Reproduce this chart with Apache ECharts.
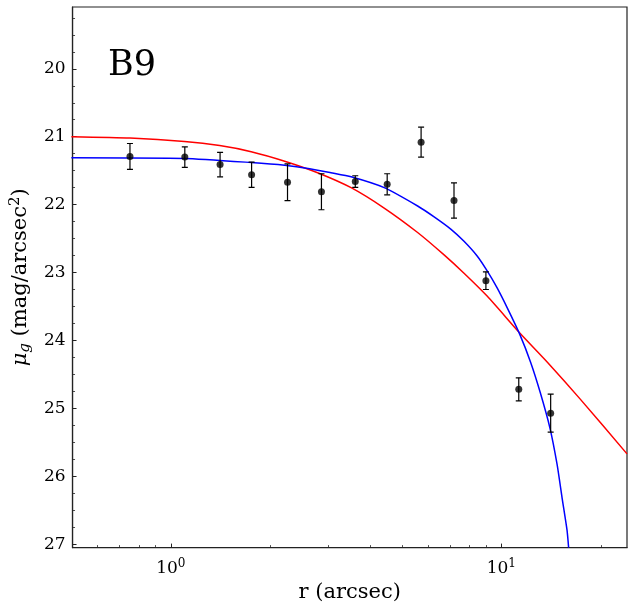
<!DOCTYPE html>
<html>
<head>
<meta charset="utf-8">
<script src="https://cdn.jsdelivr.net/npm/echarts@6/dist/echarts.min.js"></script>
<style>
html,body{margin:0;padding:0;background:#fff;}
#chart{width:634px;height:608px;}
</style>
</head>
<body>
<div id="chart"></div>
<script>
// Observed profile points
const radius = [0.752, 1.102, 1.409, 1.755, 2.254, 2.855, 3.614, 4.514, 5.717, 7.19, 8.98, 11.29, 14.10];
const mu     = [21.29, 21.30, 21.41, 21.56, 21.67, 21.81, 21.66, 21.70, 21.08, 21.94, 23.12, 24.72, 25.07];
const muErr  = [0.19, 0.15, 0.18, 0.185, 0.27, 0.265, 0.085, 0.155, 0.22, 0.26, 0.13, 0.17, 0.28];

// Red model curve (sampled)
const redR  = [0.50, 0.752, 1.10, 1.405, 1.75, 2.21, 2.78, 3.51, 4.42, 5.58, 6.71, 7.71, 9.07, 11.37, 13.78, 17.3, 24.0];
const redMu = [21.00, 21.02, 21.07, 21.13, 21.22, 21.36, 21.53, 21.75, 22.05, 22.41, 22.74, 23.01, 23.35, 23.89, 24.32, 24.86, 25.67];

// Blue model curve (sampled)
const blueR  = [0.50, 1.10, 1.75, 2.21, 2.63, 3.05, 3.51, 4.42, 5.58, 6.26, 7.03, 7.71, 8.46, 9.07, 9.72, 10.42, 11.37, 12.26, 13.1, 14.03, 14.75, 15.27, 15.8, 15.98];
const blueMu = [21.31, 21.32, 21.38, 21.42, 21.47, 21.53, 21.59, 21.75, 22.02, 22.18, 22.36, 22.54, 22.76, 22.98, 23.23, 23.52, 23.91, 24.32, 24.76, 25.29, 25.83, 26.32, 26.79, 27.05];

// Axis ticks
const xMajorTicks = [1, 10];
const xMinorTicks = [0.6, 0.7, 0.8, 0.9, 2, 3, 4, 5, 6, 7, 8, 9, 20];
const yMajorTicks = [20, 21, 22, 23, 24, 25, 26, 27];
const yMinorTicks = [19.25, 19.5, 19.75, 20.25, 20.5, 20.75, 21.25, 21.5, 21.75, 22.25, 22.5, 22.75,
                     23.25, 23.5, 23.75, 24.25, 24.5, 24.75, 25.25, 25.5, 25.75, 26.25, 26.5, 26.75];

const FONT = 'DejaVu Serif';
const X_MIN = 0.504, X_MAX = 24.0, Y_MIN = 19.09, Y_MAX = 27.05;

const chart = echarts.init(document.getElementById('chart'), null, {renderer: 'canvas'});

const zip = (a, b) => a.map((v, i) => [v, b[i]]);

const option = {
  animation: false,
  backgroundColor: '#fff',
  grid: {left: 70, right: 7, top: 7, bottom: 59, containLabel: false,
         show: true, borderColor: '#222', borderWidth: 1.2, backgroundColor: 'transparent'},
  graphic: [{
    type: 'text', left: 108, top: 48,
    style: {text: 'B9', font: '35px "DejaVu Serif"', fill: '#000'}
  }],
  xAxis: [{
    type: 'log', logBase: 10, min: X_MIN, max: X_MAX,
    axisLine: {show: true, lineStyle: {color: '#222', width: 1.2}},
    axisTick: {show: true, inside: true, length: 4, lineStyle: {color: '#222', width: 1}, customValues: xMajorTicks},
    axisLabel: {
      customValues: xMajorTicks, margin: 10,
      fontFamily: FONT, fontSize: 17, color: '#000',
      formatter: v => '10{s|' + Math.round(Math.log10(v)) + '}',
      rich: {s: {fontFamily: FONT, fontSize: 12, verticalAlign: 'top', padding: [0, 0, 10, 0], color: '#000'}}
    },
    splitLine: {show: false},
    name: 'r (arcsec)', nameLocation: 'middle', nameGap: 33,
    nameTextStyle: {fontFamily: FONT, fontSize: 21, color: '#000'}
  }, {
    type: 'log', logBase: 10, min: X_MIN, max: X_MAX, position: 'bottom',
    axisLine: {show: false},
    axisTick: {show: true, inside: true, length: 2.5, lineStyle: {color: '#222', width: 0.8}, customValues: xMinorTicks},
    axisLabel: {show: false},
    splitLine: {show: false}
  }],
  yAxis: [{
    type: 'value', inverse: true, min: Y_MIN, max: Y_MAX,
    axisLine: {show: true, lineStyle: {color: '#222', width: 1.2}},
    axisTick: {show: true, inside: true, length: 4, lineStyle: {color: '#222', width: 1}, customValues: yMajorTicks},
    axisLabel: {customValues: yMajorTicks, margin: 7, fontFamily: FONT, fontSize: 17, color: '#000'},
    splitLine: {show: false},
    name: '{i|μ}{sub|g} (mag/arcsec{sup|2})', nameLocation: 'middle', nameGap: 35, nameRotate: 90,
    nameTextStyle: {
      fontFamily: FONT, fontSize: 21, color: '#000',
      rich: {
        i: {fontFamily: FONT, fontStyle: 'italic', fontSize: 21, color: '#000'},
        sub: {fontFamily: FONT, fontStyle: 'italic', fontSize: 15, color: '#000', verticalAlign: 'bottom', padding: [8, 0, 0, 0]},
        sup: {fontFamily: FONT, fontSize: 15, color: '#000', verticalAlign: 'top', padding: [0, 0, 10, 0]}
      }
    }
  }, {
    type: 'value', inverse: true, min: Y_MIN, max: Y_MAX, position: 'left',
    axisLine: {show: false},
    axisTick: {show: true, inside: true, length: 2.5, lineStyle: {color: '#222', width: 0.8}, customValues: yMinorTicks},
    axisLabel: {show: false},
    splitLine: {show: false}
  }],
  series: [{
    type: 'line', data: zip(redR, redMu), showSymbol: false, smooth: 0.2,
    lineStyle: {color: '#ff0000', width: 1.5}, clip: true, z: 2
  }, {
    type: 'line', data: zip(blueR, blueMu), showSymbol: false, smooth: 0.2,
    lineStyle: {color: '#0000ff', width: 1.5}, clip: true, z: 3
  }, {
    type: 'custom', clip: true, z: 4,
    data: radius.map((r, i) => [r, mu[i] - muErr[i], mu[i] + muErr[i]]),
    renderItem: function (params, api) {
      const top = api.coord([api.value(0), api.value(1)]);
      const bot = api.coord([api.value(0), api.value(2)]);
      const hw = 3;
      const st = {stroke: '#000', lineWidth: 1.2};
      return {type: 'group', children: [
        {type: 'line', shape: {x1: top[0], y1: top[1], x2: bot[0], y2: bot[1]}, style: st},
        {type: 'line', shape: {x1: top[0] - hw, y1: top[1], x2: top[0] + hw, y2: top[1]}, style: st},
        {type: 'line', shape: {x1: bot[0] - hw, y1: bot[1], x2: bot[0] + hw, y2: bot[1]}, style: st}
      ]};
    }
  }, {
    type: 'scatter', data: zip(radius, mu), symbol: 'circle', symbolSize: 7,
    itemStyle: {color: '#000'}, z: 5
  }]
};
chart.setOption(option);
</script>
</body>
</html>
